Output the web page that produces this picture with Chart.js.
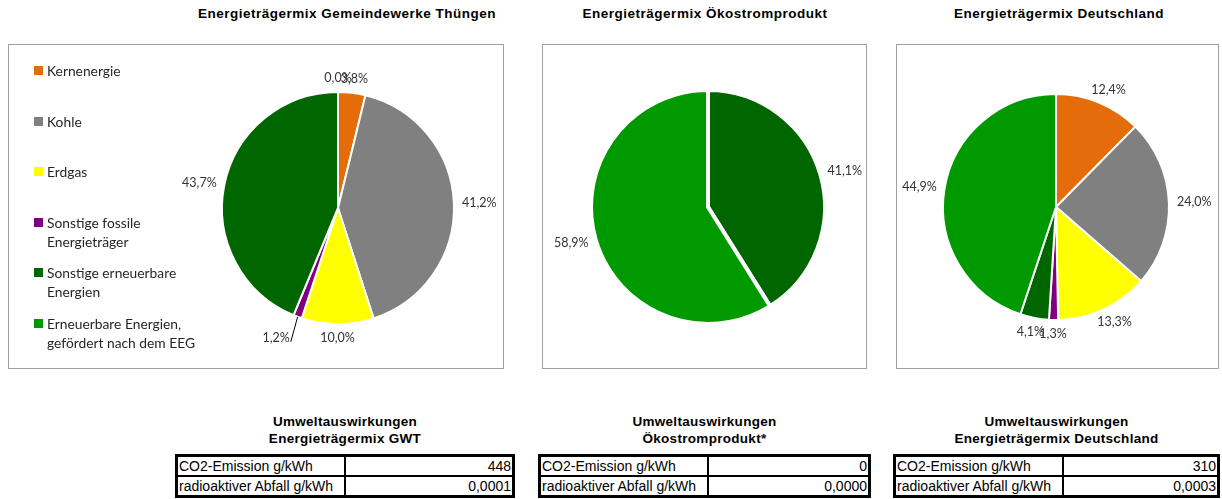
<!DOCTYPE html>
<html>
<head>
<meta charset="utf-8">
<script src="https://cdn.jsdelivr.net/npm/chart.js@4"></script>
<style>
	body { margin: 0; width: 1222px; height: 499px; background: #fff; position: relative; overflow: hidden; font-family: "Liberation Sans", Arial, sans-serif; }
	.title { position: absolute; top: 6px; font-weight: bold; font-size: 13.5px; letter-spacing: 0.5px; color: #000; transform: translateX(-50%); white-space: nowrap; }
	.box { position: absolute; top: 44px; height: 323px; border: 1px solid #a0a0a0; }
	.box canvas { position: absolute; left: 0; top: 0; }
	#legend { position: absolute; left: 24px; top: 16px; font-family: Lato, sans-serif; font-size: 13.8px; color: #262626; }
	#legend .item { position: absolute; left: 0; width: 200px; line-height: 19px; padding-left: 14px; }
	#legend .sq { position: absolute; left: 1px; top: 5px; width: 9px; height: 9px; }
	.impact { position: absolute; top: 413px; }
	.impact .head { text-align: center; font-weight: bold; font-size: 13.5px; letter-spacing: 0.3px; line-height: 17px; margin-bottom: 7px; }
	.impact table { border-collapse: collapse; border: 3px solid #000; width: 100%; font-size: 14px; }
	.impact td { border: 2px solid #000; height: 18px; padding: 0 1px; white-space: nowrap; }
	.impact td.v { text-align: right; }
</style>
</head>
<body>
<div class="title" style="left:347px">Energieträgermix Gemeindewerke Thüngen</div>
<div class="title" style="left:705px">Energieträgermix Ökostromprodukt</div>
<div class="title" style="left:1059px">Energieträgermix Deutschland</div>

<div class="box" style="left:8px;width:494px"><canvas id="c1" width="494" height="323"></canvas><div id="legend"></div></div>
<div class="box" style="left:542px;width:323px"><canvas id="c2" width="323" height="323"></canvas></div>
<div class="box" style="left:896px;width:321px"><canvas id="c3" width="321" height="323"></canvas></div>

<div class="impact" id="t1" style="left:175px;width:340px"></div>
<div class="impact" id="t2" style="left:538px;width:333px"></div>
<div class="impact" id="t3" style="left:893px;width:327px"></div>

<script>
const categories = [
	"Kernenergie",
	"Kohle",
	"Erdgas",
	"Sonstige fossile Energieträger",
	"Sonstige erneuerbare Energien",
	"Erneuerbare Energien, gefördert nach dem EEG",
];
const legendLines = [
	["Kernenergie"],
	["Kohle"],
	["Erdgas"],
	["Sonstige fossile", "Energieträger"],
	["Sonstige erneuerbare", "Energien"],
	["Erneuerbare Energien,", "gefördert nach dem EEG"],
];
const colors = ["#E46C0A", "#808080", "#FFFF00", "#800080", "#006600", "#009900"];

const mixGwt = [3.8, 41.2, 10.0, 1.2, 43.7, 0.0];
const mixOeko = [null, null, null, null, 41.1, 58.9];
const mixDeutschland = [12.4, 24.0, 13.3, 1.3, 4.1, 44.9];

const impactRows = ["CO2-Emission g/kWh", "radioaktiver Abfall g/kWh"];
const impactGwt = ["448", "0,0001"];
const impactOeko = ["0", "0,0000"];
const impactDeutschland = ["310", "0,0003"];

function fmt(v) {
	return v.toFixed(1).replace(".", ",") + "%";
}

// Prozentwerte außerhalb der Torte, wie in Excel
const pctLabels = {
	id: "pctLabels",
	afterDatasetsDraw(chart, args, opts) {
		const ctx = chart.ctx;
		const meta = chart.getDatasetMeta(0);
		const values = chart.data.datasets[0].data;
		ctx.save();
		ctx.font = "12.5px Lato";
		ctx.fillStyle = "#333333";
		ctx.textAlign = "center";
		ctx.textBaseline = "middle";
		meta.data.forEach((arc, i) => {
			const v = values[i];
			if (v === null || v === undefined) return;
			const p = arc.getProps(["x", "y", "startAngle", "endAngle", "outerRadius"], true);
			const mid = (p.startAngle + p.endAngle) / 2;
			const cos = Math.cos(mid);
			const sin = Math.sin(mid);
			const text = fmt(v);
			const w = ctx.measureText(text).width;
			const h = 12;
			let lx = p.x + (p.outerRadius + 8) * cos + cos * w / 2;
			let ly = p.y + (p.outerRadius + 8) * sin + sin * h / 2;
			const lead = opts.leader && opts.leader.index === i ? opts.leader : null;
			if (lead) {
				lx += lead.dx;
				ly += lead.dy;
				ctx.strokeStyle = "#000";
				ctx.lineWidth = 1;
				ctx.beginPath();
				ctx.moveTo(p.x + p.outerRadius * cos, p.y + p.outerRadius * sin);
				ctx.lineTo(lx + w / 2 + 1, ly + 4);
				ctx.stroke();
			}
			ctx.fillText(text, lx, ly);
		});
		ctx.restore();
	},
};

function pie(id, values, radius, border, padding, leader) {
	new Chart(document.getElementById(id), {
		type: "pie",
		data: {
			labels: categories,
			datasets: [
				{
					data: values,
					backgroundColor: colors,
					borderColor: "#ffffff",
					borderWidth: border,
				},
			],
		},
		options: {
			responsive: false,
			animation: false,
			radius: radius,
			layout: { padding: padding },
			plugins: {
				legend: { display: false },
				tooltip: { enabled: false },
				pctLabels: { leader: leader },
			},
		},
		plugins: [pctLabels],
	});
}

pie("c1", mixGwt, 116, 2, { left: 164, right: 0, top: 3, bottom: 0 }, { index: 3, dx: -14, dy: 8 });
pie("c2", mixOeko, 117, 4, { left: 7, right: 0, top: 1, bottom: 0 }, null);
pie("c3", mixDeutschland, 113, 2, { left: 0, right: 3, top: 1, bottom: 0 }, null);

// Legende nur beim ersten Diagramm
const legend = document.getElementById("legend");
legendLines.forEach((lines, i) => {
	const item = document.createElement("div");
	item.className = "item";
	item.style.top = i * 50.6 + "px";
	item.innerHTML = '<span class="sq" style="background:' + colors[i] + '"></span>' + lines.join("<br>");
	legend.appendChild(item);
});

function impactTable(id, head, values) {
	let html = '<div class="head">' + head.join("<br>") + "</div><table>";
	impactRows.forEach((row, i) => {
		html += '<tr><td style="width:164px">' + row + '</td><td class="v">' + values[i] + "</td></tr>";
	});
	document.getElementById(id).innerHTML = html + "</table>";
}

impactTable("t1", ["Umweltauswirkungen", "Energieträgermix GWT"], impactGwt);
impactTable("t2", ["Umweltauswirkungen", "Ökostromprodukt*"], impactOeko);
impactTable("t3", ["Umweltauswirkungen", "Energieträgermix Deutschland"], impactDeutschland);
</script>
</body>
</html>
